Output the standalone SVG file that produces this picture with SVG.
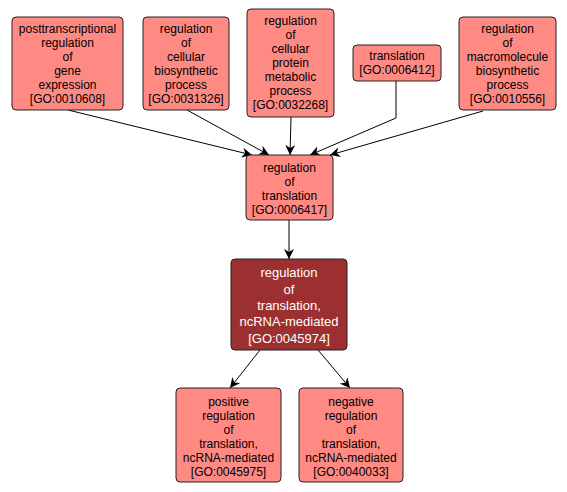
<svg xmlns="http://www.w3.org/2000/svg" width="567" height="492" viewBox="0 0 567 492">
<defs>
<style>
.n rect{fill:#ff8a84;stroke:#222;stroke-width:1}
.d rect{fill:#9c3030;stroke:#222;stroke-width:1}
text{font-family:"Liberation Sans",Arial,sans-serif;font-size:12px;text-anchor:middle;fill:#000}
.d text{fill:#fff;font-size:13px}
.e path{fill:none;stroke:#000;stroke-width:1;marker-end:url(#a)}
</style>
<marker id="a" markerWidth="12" markerHeight="10" refX="10" refY="5" orient="auto" markerUnits="userSpaceOnUse">
<path d="M0,0 L10,5 L0,10 L3,5 Z" fill="#000"/>
</marker>
</defs>
<rect width="567" height="492" fill="#fff"/>
<g class="e">
<path d="M68,110 L252,155"/>
<path d="M187,110 L269,155"/>
<path d="M291,117 L290,155"/>
<path d="M396,81 L396,118 L310,155"/>
<path d="M483,111 L330,155"/>
<path d="M289,220 L289,259"/>
<path d="M260,350 L230,388"/>
<path d="M318,350 L350,388"/>
</g>
<g id="n1" class="n"><rect x="12" y="17" width="111" height="93" rx="4"/>
<text x="67.5" y="33">posttranscriptional</text><text x="67.5" y="47">regulation</text><text x="67.5" y="61">of</text><text x="67.5" y="75">gene</text><text x="67.5" y="89">expression</text><text x="67.5" y="103">[GO:0010608]</text></g>
<g id="n2" class="n"><rect x="143" y="17" width="86" height="93" rx="4"/>
<text x="186" y="33">regulation</text><text x="186" y="47">of</text><text x="186" y="61">cellular</text><text x="186" y="75">biosynthetic</text><text x="186" y="89">process</text><text x="186" y="103">[GO:0031326]</text></g>
<g id="n3" class="n"><rect x="247" y="9" width="87" height="108" rx="4"/>
<text x="290.5" y="25">regulation</text><text x="290.5" y="39">of</text><text x="290.5" y="53">cellular</text><text x="290.5" y="67">protein</text><text x="290.5" y="81">metabolic</text><text x="290.5" y="95">process</text><text x="290.5" y="109">[GO:0032268]</text></g>
<g id="n4" class="n"><rect x="353" y="45" width="88" height="36" rx="4"/>
<text x="397" y="60">translation</text><text x="397" y="74">[GO:0006412]</text></g>
<g id="n5" class="n"><rect x="459" y="17" width="97" height="93" rx="4"/>
<text x="507.5" y="33">regulation</text><text x="507.5" y="47">of</text><text x="507.5" y="61">macromolecule</text><text x="507.5" y="75">biosynthetic</text><text x="507.5" y="89">process</text><text x="507.5" y="103">[GO:0010556]</text></g>
<g id="n6" class="n"><rect x="246" y="155" width="87" height="65" rx="4"/>
<text x="289.5" y="172">regulation</text><text x="289.5" y="186">of</text><text x="289.5" y="200">translation</text><text x="289.5" y="214">[GO:0006417]</text></g>
<g id="n7" class="d"><rect x="231" y="259" width="116" height="91" rx="4"/>
<text x="289" y="277">regulation</text><text x="289" y="294">of</text><text x="289" y="310">translation,</text><text x="289" y="326">ncRNA-mediated</text><text x="289" y="343">[GO:0045974]</text></g>
<g id="n8" class="n"><rect x="176" y="388" width="105" height="94" rx="4"/>
<text x="228.5" y="406">positive</text><text x="228.5" y="420">regulation</text><text x="228.5" y="434">of</text><text x="228.5" y="448">translation,</text><text x="228.5" y="462">ncRNA-mediated</text><text x="228.5" y="476">[GO:0045975]</text></g>
<g id="n9" class="n"><rect x="299" y="388" width="104" height="94" rx="4"/>
<text x="351" y="406">negative</text><text x="351" y="420">regulation</text><text x="351" y="434">of</text><text x="351" y="448">translation,</text><text x="351" y="462">ncRNA-mediated</text><text x="351" y="476">[GO:0040033]</text></g>
</svg>
